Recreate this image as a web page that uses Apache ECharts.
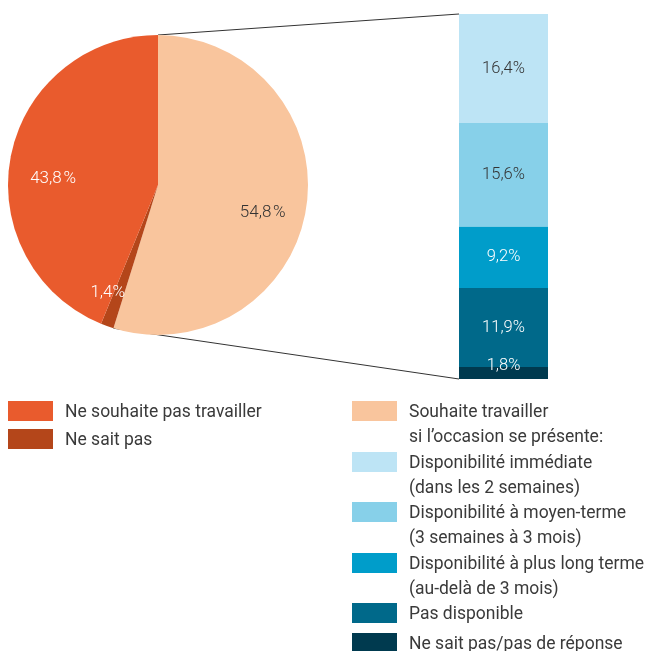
<!DOCTYPE html>
<html>
<head>
<meta charset="utf-8">
<script src="https://cdn.jsdelivr.net/npm/echarts@6/dist/echarts.min.js"></script>
<style>
  html, body { margin: 0; padding: 0; background: #fff; }
  #chart { width: 648px; height: 651px; }
</style>
</head>
<body>
<div id="chart"></div>
<script>
// pie: share of people
const pieNames = ["Souhaite travailler si l’occasion se présente", "Ne sait pas", "Ne souhaite pas travailler"];
const pieValues = [54.8, 1.4, 43.8];
const pieColors = ["#F9C59D", "#B4461A", "#E95B2D"];
const pieLabelColors = ["#333333", "#ffffff", "#ffffff"];

// stacked bar: breakdown of "souhaite travailler"
const barNames = ["Disponibilité immédiate", "Disponibilité à moyen-terme", "Disponibilité à plus long terme", "Pas disponible", "Ne sait pas/pas de réponse"];
const barValues = [16.4, 15.6, 9.2, 11.9, 1.8];
const barColors = ["#BDE4F5", "#87D0E9", "#009DCA", "#00698A", "#003A4F"];
const barLabelColors = ["#333333", "#333333", "#ffffff", "#ffffff", "#ffffff"];

// legends
const leftLegendNames = ["Ne souhaite pas travailler", "Ne sait pas"];
const leftLegendColors = ["#E95B2D", "#B4461A"];
const rightLegendNames = [
  "Souhaite travailler\nsi l’occasion se présente:",
  "Disponibilité immédiate\n(dans les 2 semaines)",
  "Disponibilité à moyen-terme\n(3 semaines à 3 mois)",
  "Disponibilité à plus long terme\n(au-delà de 3 mois)",
  "Pas disponible",
  "Ne sait pas/pas de réponse"
];
const rightLegendColors = ["#F9C59D", "#BDE4F5", "#87D0E9", "#009DCA", "#00698A", "#003A4F"];

const fmt = v => v.toFixed(1).replace(".", ",") + "%";
const FONT = "Roboto";
const pieCenter = [158, 185];
const pieRadius = 150;
const barTotal = barValues.reduce((a, b) => a + b, 0);

// label nudges so they sit where the original puts them
const pieLabelOffsets = [[-4, 11], [-13, 4], [3, 15]];
const pieLabelTexts = [fmt(pieValues[0]).replace("%", "\u200a%"), fmt(pieValues[1]), fmt(pieValues[2]).replace("%", "\u200a%")];

const chart = echarts.init(document.getElementById("chart"));

const option = {
  animation: false,
  grid: { left: 459, top: 14, width: 89, height: 365 },
  xAxis: { type: "category", data: ["x"], show: false },
  yAxis: { type: "value", min: 0, max: barTotal, inverse: true, show: false },
  series: [
    {
      type: "pie",
      center: pieCenter,
      radius: pieRadius,
      startAngle: 90,
      clockwise: true,
      silent: true,
      label: { show: false },
      labelLine: { show: false },
      itemStyle: { borderWidth: 0 },
      data: pieNames.map((n, i) => ({ name: n, value: pieValues[i], itemStyle: { color: pieColors[i] } }))
    },
    {
      // transparent pie just to place labels further out than the default inner spot
      type: "pie",
      center: pieCenter,
      radius: 214,
      startAngle: 90,
      clockwise: true,
      silent: true,
      z: 5,
      itemStyle: { color: "rgba(0,0,0,0)" },
      labelLine: { show: false },
      data: pieNames.map((n, i) => ({
        name: n,
        value: pieValues[i],
        label: {
          show: true,
          position: "inside",
          formatter: pieLabelTexts[i],
          color: pieLabelColors[i],
          fontFamily: FONT,
          fontWeight: 300,
          fontSize: 17,
          offset: pieLabelOffsets[i]
        }
      }))
    }
  ].concat(barNames.map((n, i) => ({
    type: "bar",
    name: n,
    stack: "total",
    barWidth: "100%",
    silent: true,
    itemStyle: { color: barColors[i] },
    label: {
      show: true,
      position: "inside",
      formatter: fmt(barValues[i]),
      color: barLabelColors[i],
      fontFamily: FONT,
      fontWeight: 300,
      fontSize: 16.5,
      offset: i === barNames.length - 1 ? [0, -7] : [0, 0]
    },
    data: [barValues[i]]
  })))
};

chart.setOption(option);

// connector lines from pie slice edges to the bar
const toRad = d => d * Math.PI / 180;
const peachAngle = pieValues[0] / pieValues.reduce((a, b) => a + b, 0) * 360;
const pieTop = [pieCenter[0], pieCenter[1] - pieRadius];
const pieBottom = [
  pieCenter[0] + pieRadius * Math.sin(toRad(peachAngle)),
  pieCenter[1] - pieRadius * Math.cos(toRad(peachAngle))
];
const barTop = chart.convertToPixel({ gridIndex: 0 }, ["x", 0]);
const barBottom = chart.convertToPixel({ gridIndex: 0 }, ["x", barTotal]);
const barLeft = option.grid.left;

const graphics = [
  { type: "line", shape: { x1: pieTop[0], y1: pieTop[1], x2: barLeft, y2: barTop[1] }, style: { stroke: "#333", lineWidth: 1 } },
  { type: "line", shape: { x1: pieBottom[0], y1: pieBottom[1], x2: barLeft, y2: barBottom[1] }, style: { stroke: "#333", lineWidth: 1 } }
];

function legendColumn(names, colors, x, y, oneStep, twoStep) {
  let cy = y;
  names.forEach((n, i) => {
    const lines = n.split("\n").length;
    graphics.push({ type: "rect", shape: { x: x, y: Math.round(cy), width: 45, height: 20 }, style: { fill: colors[i] } });
    graphics.push({
      type: "text", x: x + 57, y: Math.round(cy) - 1,
      style: { text: n, fill: "#3a3a3a", font: "17.5px " + FONT, lineHeight: 25, verticalAlign: "top" }
    });
    cy += lines === 1 ? oneStep : twoStep;
  });
}
legendColumn(leftLegendNames, leftLegendColors, 8, 401, 28, 50);
legendColumn(rightLegendNames, rightLegendColors, 352, 401, 30, 50.5);

chart.setOption({ graphic: graphics });
</script>
</body>
</html>
